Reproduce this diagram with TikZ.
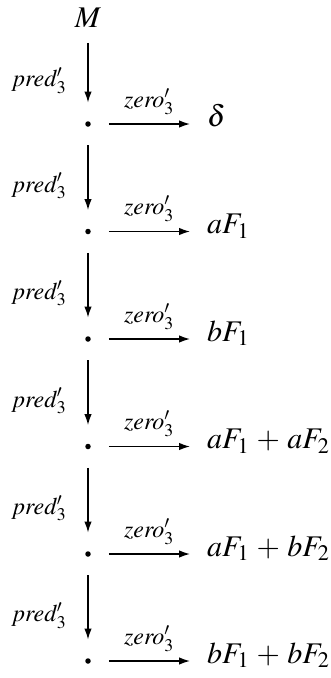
\documentclass[tikz,border=0pt]{standalone}
\usepackage{mathptmx}
\usetikzlibrary{arrows.meta}
\begin{document}
\begin{tikzpicture}[x=1pt,y=1pt,
  big/.style={font=\fontsize{30}{34}\selectfont, inner sep=0pt},
  lab/.style={font=\fontsize{24}{28}\selectfont, inner sep=0pt},
  dotn/.style={circle, fill=black, inner sep=0pt, minimum size=5.5pt},
  arr/.style={line width=1.4pt, -{Latex[length=11pt,width=7.5pt]}}]
\useasboundingbox (0,0) rectangle (330,-678);
\node[big] (M) at (88,-18) {$M$};
\foreach \i/\y in {1/124,2/231.5,3/339,4/446.5,5/554,6/661}{
  \node[dotn] (d\i) at (88,-\y) {};
}
\node[big, anchor=mid west] (t1) at (207,-124) {$\delta$};
\node[big, anchor=mid west] (t2) at (207,-231.5) {$aF_1$};
\node[big, anchor=mid west] (t3) at (207,-339) {$bF_1$};
\node[big, anchor=mid west] (t4) at (207,-446.5) {$aF_1\mathbin{\,+\,}aF_2$};
\node[big, anchor=mid west] (t5) at (207,-554) {$aF_1\mathbin{\,+\,}bF_2$};
\node[big, anchor=mid west] (t6) at (207,-661) {$bF_1\mathbin{\,+\,}bF_2$};
\draw[arr, shorten <=15pt, shorten >=18.5pt] (M) -- (d1)
  node[lab, midway, left=21pt, yshift=-6pt] {$\mathit{pred}'_3$};
\foreach \i/\j in {1/2,2/3,3/4,4/5,5/6}{
  \draw[arr, shorten <=18.5pt, shorten >=18.5pt] (d\i) -- (d\j)
    node[lab, midway, left=21pt, yshift=-8pt] {$\mathit{pred}'_3$};
}
\foreach \i in {1,...,6}{
  \draw[arr, shorten <=18pt, shorten >=17pt] (d\i) -- (d\i -| t\i.west)
    node[lab, midway, above=9pt] {$\mathit{zero}'_3$};
}
\end{tikzpicture}
\end{document}
